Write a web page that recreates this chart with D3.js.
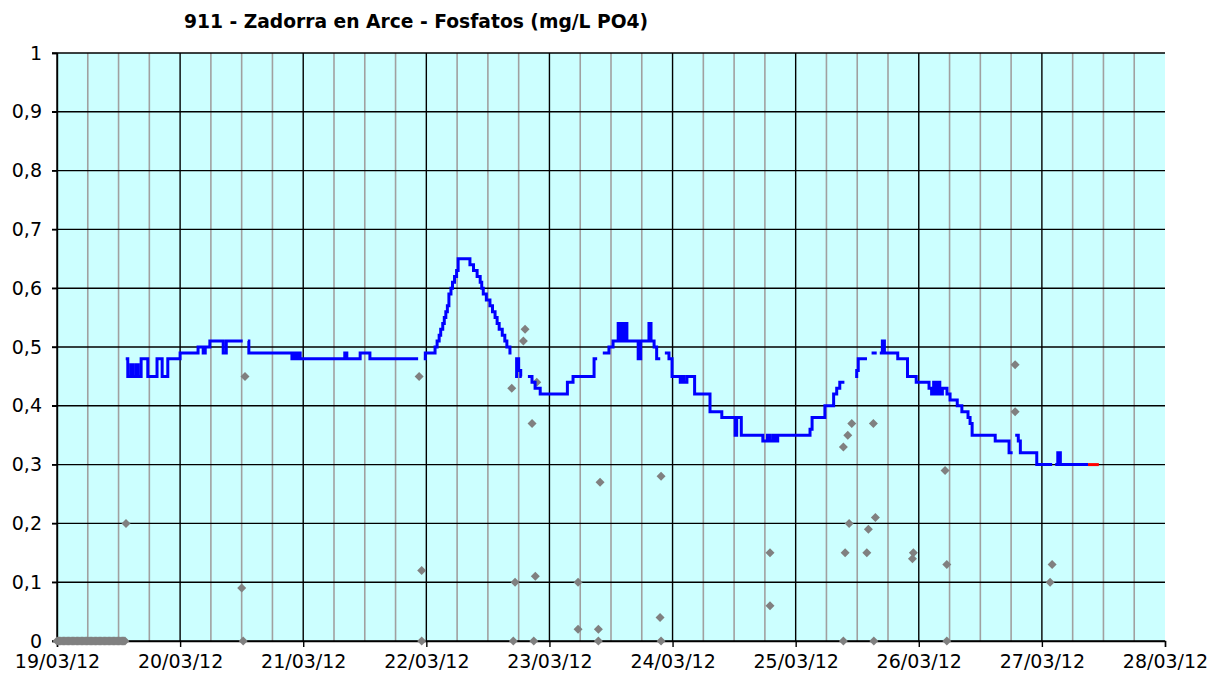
<!DOCTYPE html>
<html>
<head>
<meta charset="utf-8">
<script src="https://cdn.jsdelivr.net/npm/d3@7"></script>
<style>
  html, body { margin: 0; padding: 0; background: #ffffff; }
  svg { display: block; }
</style>
</head>
<body>
<svg id="chart" width="1222" height="680"></svg>
<script>
// ---------------- DATA ----------------
const chartTitle = "911 - Zadorra en Arce - Fosfatos (mg/L PO4)";
const startDate = "2012-03-19T00:00:00";
const endDate = "2012-03-28T00:00:00";
const xTickLabels = ["19/03/12","20/03/12","21/03/12","22/03/12","23/03/12","24/03/12","25/03/12","26/03/12","27/03/12","28/03/12"];
const yTickValues = [0,0.1,0.2,0.3,0.4,0.5,0.6,0.7,0.8,0.9,1];
const yTickLabels = ["0","0,1","0,2","0,3","0,4","0,5","0,6","0,7","0,8","0,9","1"];

// Continuous phosphate series (hours since 19/03/12 00:00, mg/L); null = gap
const lineHours = [
  13.4,13.8,14.4,14.8,15.4,15.8,16.4,17.7,19.5,20.5,21.6,24.0,27.5,28.5,28.9,29.8,32.4,33.0,36.2,36.7,
  37.2,37.4,45.8,46.2,46.6,47.0,47.4,56.1,56.5,59.1,61.0,70.4,71.0,
  71.5,71.8,73.7,74.1,74.5,74.8,75.2,75.5,75.8,76.1,76.4,76.8,77.1,77.5,77.9,78.2,80.5,81.2,81.9,82.5,82.8,83.1,83.7,84.4,84.9,85.4,85.8,86.2,86.8,87.3,87.7,88.3,88.6,89.0,
  89.3,89.6,90.0,90.4,90.6,91.2,
  91.8,92.6,93.2,94.2,99.5,100.6,104.7,105.3,105.8,
  106.4,107.6,108.4,109.4,109.7,110.0,110.3,110.7,111.1,113.3,113.8,115.4,115.8,116.4,116.9,117.6,118.0,
  118.5,119.3,119.9,121.5,121.9,122.2,122.8,124.3,127.3,129.6,132.2,132.5,133.4,137.6,138.5,139.0,139.6,140.0,140.5,146.8,147.2,149.7,151.4,152.0,152.6,153.5,154.0,
  155.6,155.9,156.2,157.9,158.3,
  158.8,159.8,160.1,
  160.4,160.9,161.3,163.9,165.8,167.5,170.0,170.5,170.9,171.3,171.7,172.1,172.6,173.5,174.1,175.5,176.4,177.6,178.0,178.4,182.9,185.6,186.3,186.5,
  186.8,187.4,187.8,191.0,194.0,194.3,
  194.6,195.1,195.6,201.0
];
const lineValues = [
  0.48,0.45,0.47,0.45,0.47,0.45,0.48,0.45,0.48,0.45,0.48,0.49,0.50,0.49,0.50,0.51,0.49,0.51,0.51,null,
  0.51,0.49,0.48,0.49,0.48,0.49,0.48,0.49,0.48,0.49,0.48,0.48,null,
  0.48,0.49,0.50,0.51,0.52,0.53,0.54,0.55,0.56,0.57,0.59,0.60,0.61,0.62,0.63,0.65,0.64,0.63,0.62,0.61,0.60,0.59,0.58,0.57,0.56,0.55,0.54,0.53,0.52,0.51,0.50,0.49,0.49,null,
  0.45,0.48,0.46,0.45,0.45,null,
  0.45,0.44,0.43,0.42,0.44,0.45,0.48,0.48,null,
  0.49,0.50,0.51,0.54,0.51,0.54,0.51,0.54,0.51,0.48,0.51,0.54,0.51,0.50,0.48,0.48,null,
  0.49,0.48,0.45,0.44,0.45,0.44,0.45,0.42,0.39,0.38,0.35,0.38,0.35,0.34,0.35,0.34,0.35,0.34,0.35,0.36,0.38,0.40,0.42,0.43,0.44,0.44,null,
  0.45,0.46,0.48,0.48,null,
  0.49,0.49,null,
  0.49,0.51,0.49,0.48,0.45,0.44,0.43,0.42,0.44,0.42,0.44,0.42,0.43,0.42,0.41,0.40,0.39,0.38,0.37,0.35,0.34,0.32,0.32,null,
  0.35,0.34,0.32,0.30,0.30,null,
  0.30,0.32,0.30,0.30
];
// Final (provisional) stretch drawn in red
const redHours = [201.0, 203.1];
const redValues = [0.30, 0.30];

// Discrete samples (grey diamonds)
const sampleHours = [
  0,0.25,0.5,0.75,1,1.25,1.5,1.75,2,2.25,2.5,2.75,3,3.25,3.5,3.75,4,4.25,4.5,4.75,5,5.25,5.5,5.75,6,6.25,6.5,6.75,
  7,7.25,7.5,7.75,8,8.25,8.5,8.75,9,9.25,9.5,9.75,10,10.25,10.5,10.75,11,11.25,11.5,11.75,12,12.25,12.5,12.75,13,13.25,
  13.45,36.0,36.3,36.65,70.6,71.1,71.1,
  88.65,88.96,89.3,90.92,91.25,92.61,92.94,93.25,93.53,
  101.58,101.58,105.54,105.54,105.87,117.57,117.76,117.76,
  139.0,139.0,153.3,153.3,153.64,154.16,154.42,154.94,157.87,158.18,159.15,159.23,159.54,
  166.76,166.95,173.13,173.46,173.46,186.78,186.78,193.6,194.0
];
const sampleValues = [
  0,0,0,0,0,0,0,0,0,0,0,0,0,0,0,0,0,0,0,0,0,0,0,0,0,0,0,0,
  0,0,0,0,0,0,0,0,0,0,0,0,0,0,0,0,0,0,0,0,0,0,0,0,0,0,
  0.20,0.09,0,0.45,0.45,0.12,0,
  0.43,0,0.10,0.51,0.53,0.37,0,0.11,0.44,
  0.10,0.02,0.02,0,0.27,0.04,0.28,0,
  0.15,0.06,0.33,0,0.15,0.35,0.20,0.37,0.15,0.19,0.37,0,0.21,
  0.14,0.15,0.29,0.13,0,0.47,0.39,0.10,0.13
];

// ---------------- DRAWING ----------------
const svg = d3.select("#chart");
const W = 1222, H = 680;
const margin = {left: 57, top: 53, right: 1222 - 1165, bottom: 680 - 641};
const x0 = margin.left, x1 = W - margin.right, y0 = H - margin.bottom, y1 = margin.top;

const t0 = new Date(startDate), t1 = new Date(endDate);
const hourToDate = h => new Date(t0.getTime() + h * 3600 * 1000);

const x = d3.scaleTime().domain([t0, t1]).range([x0, x1]);
const y = d3.scaleLinear().domain([0, 1]).range([y0, y1]);

svg.append("rect").attr("width", W).attr("height", H).attr("fill", "#ffffff");
svg.append("rect")
  .attr("x", x0).attr("y", y1)
  .attr("width", x1 - x0).attr("height", y0 - y1)
  .attr("fill", "#ccffff");

// minor vertical grid (every 6h)
const minorTicks = d3.timeHour.every(6).range(t0, t1).filter(d => d.getHours() !== 0);
svg.append("g").selectAll("line").data(minorTicks).join("line")
  .attr("x1", d => x(d)).attr("x2", d => x(d))
  .attr("y1", y1).attr("y2", y0)
  .attr("stroke", "#a0a0a0").attr("stroke-width", 1.6);

// major vertical grid (days)
const dayTicks = d3.timeDay.range(t0, d3.timeDay.offset(t1, 1));
svg.append("g").selectAll("line").data(dayTicks.slice(0, -1)).join("line")
  .attr("x1", d => x(d)).attr("x2", d => x(d))
  .attr("y1", y1).attr("y2", y0)
  .attr("stroke", "#000000").attr("stroke-width", 1.4);

// horizontal grid
svg.append("g").selectAll("line").data(yTickValues).join("line")
  .attr("x1", x0 - 5).attr("x2", x1)
  .attr("y1", d => y(d)).attr("y2", d => y(d))
  .attr("stroke", "#000000").attr("stroke-width", 1.4);

// x axis
const xAxis = d3.axisBottom(x)
  .tickValues(dayTicks)
  .tickSize(6)
  .tickFormat((d, i) => xTickLabels[i]);
const gx = svg.append("g").attr("transform", `translate(0,${y0})`).call(xAxis);
gx.select(".domain").attr("stroke", "#000").attr("stroke-width", 1.4);
gx.selectAll(".tick line").attr("stroke", "#000").attr("stroke-width", 1.4);
gx.selectAll(".tick text")
  .attr("font-family", "DejaVu Sans, Verdana, sans-serif")
  .attr("font-size", 19).attr("fill", "#000")
  .attr("y", 14).attr("dy", "0.71em");

// y axis labels
const yAxis = d3.axisLeft(y)
  .tickValues(yTickValues)
  .tickSize(5)
  .tickFormat((d, i) => yTickLabels[i]);
const gy = svg.append("g").attr("transform", `translate(${x0},0)`).call(yAxis);
gy.select(".domain").attr("stroke", "#000").attr("stroke-width", 1.4);
gy.selectAll(".tick line").attr("stroke", "#000").attr("stroke-width", 1.4);
gy.selectAll(".tick text")
  .attr("font-family", "DejaVu Sans, Verdana, sans-serif")
  .attr("font-size", 19).attr("fill", "#000")
  .attr("x", -15);

// samples (grey diamonds)
const samples = sampleHours.map((h, i) => ({t: hourToDate(h), v: sampleValues[i]}));
svg.append("g").selectAll("path").data(samples).join("path")
  .attr("transform", d => `translate(${x(d.t)},${y(d.v)})`)
  .attr("d", "M0,-4.5L4.5,0L0,4.5L-4.5,0Z")
  .attr("fill", "#808080");

// blue series
const series = lineHours.map((h, i) => ({t: hourToDate(h), v: lineValues[i]}));
const line = d3.line()
  .defined(d => d.v !== null)
  .x(d => x(d.t)).y(d => y(d.v))
  .curve(d3.curveStepAfter);
svg.append("path").datum(series)
  .attr("d", line)
  .attr("fill", "none").attr("stroke", "#0000ff")
  .attr("stroke-width", 3).attr("stroke-linejoin", "miter");

const red = redHours.map((h, i) => ({t: hourToDate(h), v: redValues[i]}));
svg.append("path").datum(red)
  .attr("d", line)
  .attr("fill", "none").attr("stroke", "#ff0000").attr("stroke-width", 3);

// title
svg.append("text")
  .attr("x", 416).attr("y", 28)
  .attr("text-anchor", "middle")
  .attr("font-family", "DejaVu Sans, Verdana, sans-serif")
  .attr("font-weight", "bold")
  .attr("font-size", 18.7)
  .attr("fill", "#000")
  .text(chartTitle);
</script>
</body>
</html>
